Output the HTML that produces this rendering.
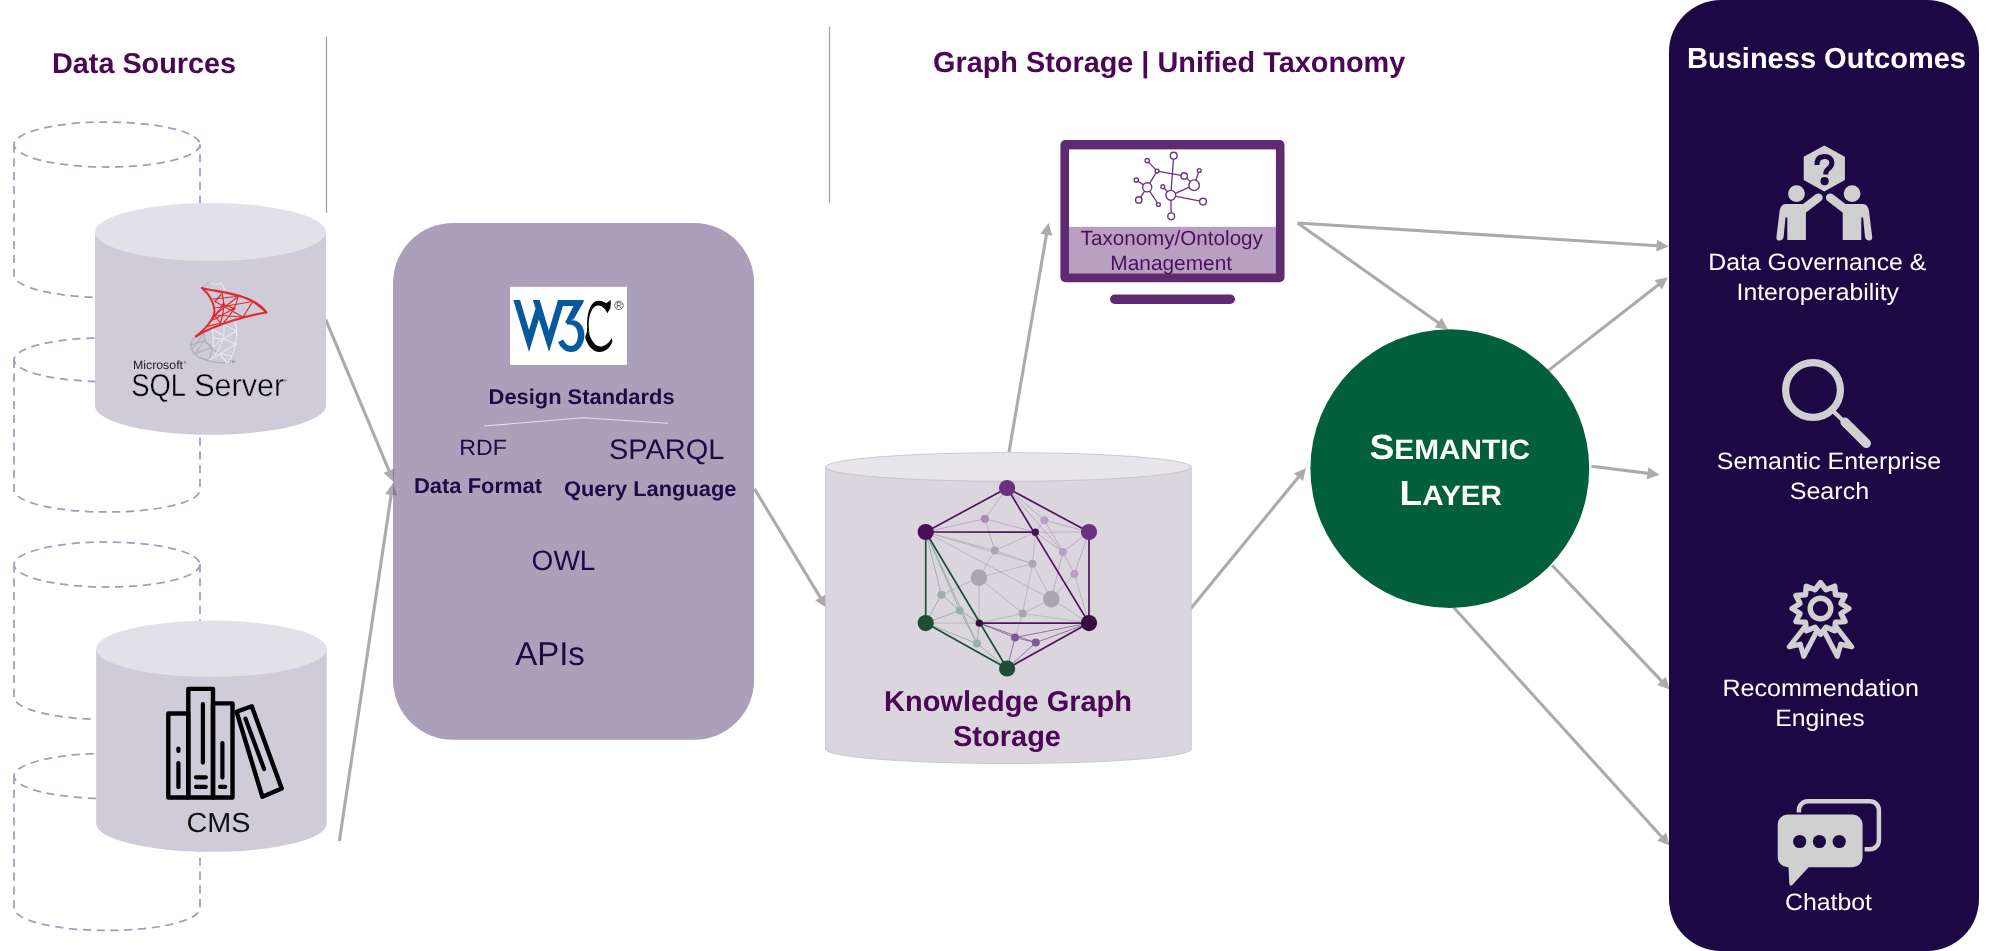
<!DOCTYPE html>
<html><head><meta charset="utf-8">
<style>
html,body{margin:0;padding:0;background:#fff;}
body{width:1999px;height:951px;overflow:hidden;}
svg{display:block;will-change:transform;opacity:0.9999;}
text{font-family:"Liberation Sans",sans-serif;text-rendering:geometricPrecision;}
.b{font-weight:bold;}
</style></head><body>
<svg width="1999" height="951" viewBox="0 0 1999 951">
<defs>
<marker id="ah" viewBox="0 0 14 12" refX="13" refY="6" markerWidth="14" markerHeight="12" markerUnits="userSpaceOnUse" orient="auto">
<path d="M0,0 L14,6 L0,12 L3.5,6 Z" fill="#aaa6a6"/>
</marker>
</defs>
<rect width="1999" height="951" fill="#fff"/>

<!-- SECTION: dividers -->
<line x1="326.5" y1="36.5" x2="326.5" y2="213" stroke="#a6a2a4" stroke-width="1.25"/>
<line x1="829.5" y1="26.5" x2="829.5" y2="203" stroke="#a6a2a4" stroke-width="1.25"/>

<!-- SECTION: headers -->
<text x="52" y="73" class="b" font-size="28.8" fill="#4b0655">Data Sources</text>
<text x="933" y="72.3" class="b" font-size="28.85" fill="#4b0655">Graph Storage | Unified Taxonomy</text>

<!-- SECTION: dashed cylinders -->
<g fill="none" stroke="#98a2c0" stroke-width="1.75" stroke-dasharray="8.2 5.6">
<g id="dc1"><ellipse cx="107" cy="144.5" rx="93" ry="22.5"/><path d="M14,144.5 V275 A93,22.5 0 0 0 200,275 V144.5"/></g>
<g><ellipse cx="107" cy="359.7" rx="93" ry="22"/><path d="M14,359.7 V490 A93,22 0 0 0 200,490 V359.7"/></g>
<g><ellipse cx="107" cy="564.5" rx="93" ry="22.5"/><path d="M14,564.5 V697 A93,22.5 0 0 0 200,697 V564.5"/></g>
<g><ellipse cx="107" cy="776" rx="93" ry="22.5"/><path d="M14,776 V908 A93,22.5 0 0 0 200,908 V776"/></g>
</g>

<!-- SECTION: arrows-under -->
<g id="arrows" stroke="#aeaaaa" stroke-width="3.1" fill="#aeaaaa">
<line x1="325.7" y1="319.7" x2="389.4" y2="471.7"/>
<polygon stroke="none" points="393.6,481.8 383.4,473.0 394.5,468.4"/>
<line x1="339.4" y1="841.0" x2="391.3" y2="493.8"/>
<polygon stroke="none" points="392.9,482.9 397.1,495.7 385.2,493.9"/>
<line x1="754.5" y1="488.9" x2="820.8" y2="598.4"/>
<polygon stroke="none" points="826.5,607.8 815.2,600.6 825.4,594.4"/>
<line x1="1009.0" y1="452.0" x2="1046.6" y2="233.8"/>
<polygon stroke="none" points="1048.5,223.0 1052.4,235.8 1040.5,233.8"/>
<line x1="1190.8" y1="608.5" x2="1299.0" y2="476.4"/>
<polygon stroke="none" points="1306.0,467.9 1303.0,481.0 1293.8,473.4"/>
<line x1="1297.6" y1="223.0" x2="1657.6" y2="245.7"/>
<polygon stroke="none" points="1668.6,246.4 1656.2,251.6 1657.0,239.7"/>
<line x1="1297.6" y1="223.0" x2="1439.0" y2="323.2"/>
<polygon stroke="none" points="1448.0,329.6 1434.7,327.6 1441.7,317.8"/>
<line x1="1548.5" y1="370.4" x2="1659.1" y2="284.2"/>
<polygon stroke="none" points="1667.8,277.4 1662.0,289.5 1654.6,280.0"/>
<line x1="1591.4" y1="466.2" x2="1648.6" y2="473.4"/>
<polygon stroke="none" points="1659.5,474.8 1646.8,479.2 1648.3,467.3"/>
<line x1="1552.1" y1="565.3" x2="1662.1" y2="681.6"/>
<polygon stroke="none" points="1669.7,689.6 1657.1,685.0 1665.8,676.8"/>
<line x1="1453.5" y1="607.3" x2="1662.3" y2="837.5"/>
<polygon stroke="none" points="1669.7,845.6 1657.2,840.7 1666.1,832.7"/>
</g>

<!-- SECTION: sql-cylinder -->
<g id="sqlcyl">
<path d="M95,232 V405.7 A115.5,29 0 0 0 326,405.7 V232 Z" fill="#d0cbd9"/>
<ellipse cx="210.5" cy="232" rx="115.5" ry="29" fill="#e3e1e8"/>
</g>

<!-- SECTION: cms-cylinder -->
<g id="cmscyl">
<path d="M96.2,649 V823.6 A115.3,28.2 0 0 0 326.8,823.6 V649 Z" fill="#d0cbd9"/>
<ellipse cx="211.5" cy="648.7" rx="115.3" ry="28.2" fill="#e3e1e8"/>
</g>

<!-- SECTION: sql-logo -->
<g id="sqllogo">
<g fill="none" stroke="#adb4b9" stroke-width="1.2" stroke-linecap="round">
<path d="M196.0,336.4 C189.0,341.9 188.0,350.9 200.0,357.9 C209.0,361.9 218.0,362.9 227.0,362.9"/>
<path d="M204.0,333.9 C203.0,340.9 210.0,348.9 220.0,353.9"/>
<path d="M190.5,344.9 L204.0,340.9"/>
<path d="M204.0,340.9 L195.0,353.9"/>
<path d="M195.0,353.9 L213.0,346.9"/>
<path d="M204.0,340.9 L213.0,346.9"/>
<path d="M213.0,346.9 L209.0,359.9"/>
<path d="M192.0,348.9 L204.0,333.9"/>
<path d="M209.0,359.9 L200.0,357.9"/>
</g>
<g fill="none" stroke="#e6e8ea" stroke-width="1.15" stroke-linecap="round">
<path d="M234.9,321.0 C237.9,330.9 236.9,343.9 232.9,353.9 C230.9,358.9 229.0,361.9 227.0,362.9"/>
<path d="M224.0,325.0 C225.0,334.9 222.0,346.9 215.0,354.9"/>
<path d="M212.0,328.9 C214.0,336.9 213.0,343.9 213.0,346.9"/>
<path d="M224.0,325.0 L236.4,330.9"/>
<path d="M236.4,330.9 L223.0,338.9"/>
<path d="M223.0,338.9 L235.9,343.9"/>
<path d="M235.9,343.9 L220.0,353.9"/>
<path d="M220.0,353.9 L231.9,355.9"/>
<path d="M213.0,337.9 L223.0,338.9"/>
<path d="M213.0,346.9 L223.0,338.9"/>
<path d="M209.0,359.9 L220.0,353.9"/>
<path d="M220.0,353.9 L227.0,362.9"/>
<path d="M212.0,328.9 L224.0,335.9"/>
</g>
<g fill="none" stroke-width="1.3" stroke-linecap="round">
<path stroke="#b4bcc0" d="M202.0,288.0 C203.5,285.0 206.5,283.0 211.0,282.2"/>
<path stroke="#e4e8e8" d="M210.0,283.2 C214.0,284.5 219.0,284.5 221.2,282.8"/>
<path stroke="#e4e8e8" d="M221.2,282.8 C223.0,286.0 224.5,289.0 225.5,292.0"/>
<path stroke="#c8d0d2" d="M205.0,285.0 L210.0,290.0 M210.0,283.2 L212.0,290.0"/>
</g>
<g fill="none" stroke="#de2a2e" stroke-linejoin="round" stroke-linecap="round">
<path stroke-width="2.2" d="M202.0,288.0 C220.0,293.0 251.9,293.0 266.4,312.5 C249.9,315.0 215.0,324.0 196.0,336.4"/>
<path stroke-width="2.0" d="M202.0,288.0 C209.0,294.0 214.0,302.0 214.5,311.0 C214.0,320.0 204.0,329.9 196.0,336.4"/>
<path stroke-width="1.2" d="M222.0,293.5 C225.0,303.0 224.0,313.0 220.5,323.0"/>
<path stroke-width="1.2" d="M237.9,296.5 C236.9,304.0 232.9,313.0 224.0,322.0"/>
<g stroke-width="1.25">
<path d="M213.0,299.0 L235.9,296.5"/>
<path d="M214.5,308.0 L252.9,301.5"/>
<path d="M214.5,315.0 L242.9,317.0"/>
<path d="M221.0,294.5 L215.0,301.5"/>
<path d="M215.0,301.5 L242.9,317.0"/>
<path d="M216.0,314.0 L237.9,296.5"/>
<path d="M252.9,301.5 L242.9,317.0"/>
<path d="M213.0,320.0 L233.9,308.5"/>
<path d="M210.0,322.0 L223.5,304.5"/>
<path d="M223.5,304.5 L233.9,308.5"/>
<path d="M206.0,326.9 L220.5,323.0"/>
<path d="M214.5,315.0 L220.5,323.0"/>
<path d="M252.9,301.5 L266.4,312.5"/>
</g>
<circle cx="233.9" cy="308.5" r="1.6" fill="#de2a2e" stroke="none"/>
<circle cx="223.5" cy="304.5" r="1.4" fill="#de2a2e" stroke="none"/>
</g>
<text x="133" y="369.3" font-size="12" fill="#222" textLength="50" lengthAdjust="spacingAndGlyphs">Microsoft</text>
<circle cx="185" cy="362.3" r="0.9" fill="none" stroke="#333" stroke-width="0.4"/>
<text x="131.3" y="396.3" font-size="31.5" fill="#000" textLength="54.8" lengthAdjust="spacingAndGlyphs" stroke="#d0cbd9" stroke-width="0.45">SQL</text><text x="194.2" y="396.3" font-size="31.5" fill="#000" textLength="90" lengthAdjust="spacingAndGlyphs" stroke="#d0cbd9" stroke-width="0.45">Server</text>
<circle cx="285.3" cy="380.3" r="1" fill="none" stroke="#333" stroke-width="0.4"/>
<text x="229.5" y="362.5" font-size="3.6" fill="#666">TM</text>
</g>

<!-- SECTION: cms-icon -->
<g id="cmsicon" fill="none" stroke="#000" stroke-width="4.4" stroke-linejoin="round" stroke-linecap="round">
<rect x="168.3" y="713.5" width="20" height="84"/>
<rect x="188.3" y="688.9" width="24.7" height="108.6"/>
<rect x="213" y="703.4" width="19.5" height="94.1"/>
<polygon points="236.6,711.8 251.8,706.3 281.7,788.6 262.4,796.8"/>
<g stroke-width="4.2">
<line x1="178.4" y1="748.5" x2="178.4" y2="751"/>
<line x1="178.4" y1="763" x2="178.4" y2="787.2"/>
<line x1="202.9" y1="704.2" x2="202.9" y2="762.6"/>
<line x1="196" y1="777.3" x2="205.8" y2="777.3"/>
<line x1="196" y1="786.8" x2="205.8" y2="786.8"/>
<line x1="222.4" y1="743.2" x2="222.4" y2="777.6"/>
<line x1="220" y1="786.8" x2="225.2" y2="786.8"/>
<line x1="245.400" y1="718.600" x2="264.100" y2="769"/>
</g></g>
<text x="186.500" y="831.900" font-size="27.600" fill="#111" textLength="64" lengthAdjust="spacingAndGlyphs">CMS</text>

<!-- SECTION: purple-panel -->
<rect x="393" y="223" width="361.1" height="516.8" rx="60" ry="60" fill="#aba0b9"/>
<clipPath id="pclip"><rect x="393" y="223" width="361.1" height="516.8" rx="60" ry="60"/></clipPath>
<g clip-path="url(#pclip)" fill="#2a1040" opacity="0.26"><polygon points="393.6,481.8 383.4,473.0 394.5,468.4"/><polygon points="392.9,482.9 397.1,495.7 385.2,493.9"/></g>


<!-- SECTION: panel-content -->
<g id="w3c">
<rect x="510" y="286.8" width="117" height="78.1" fill="#fff"/>
<g transform="translate(500,280) scale(0.09675)">
<g fill="#07589f">
<path d="M138,208 L207,208 L300,516 L366.5,296 L435,296 L300,745 Z"/>
<path d="M340,208 L410,208 L505,523 L600,208 L669,208 L507,745 Z"/>
<path d="M600,208 H865 V224 L768,396 L700,452 L672,440 L760,270 H600 Z"/>
<path d="M700,425 C800,385 872,470 872,565 C872,670 810,745 735,745 C670,745 625,700 600,642 L655,614 C672,655 700,680 735,680 C775,680 805,635 805,570 C805,500 765,450 690,462 Z"/>
</g>
<path d="M1147,208 L1141,290 L1110,343 C1085,287 1050,262 1010,263 C957,266 921,350 917,440 C916,480 919,520 927,565 L903,500 C893,400 913,292 958,242 C1000,198 1062,214 1097,241 Z" fill="#050505"/>
<path d="M879,588 C904,680 960,743 1030,743 C1087,743 1137,700 1161,640 L1158,596 C1100,690 1030,706 985,666 C950,632 926,584 913,524 L903,472 C901,522 896,560 879,588 Z" fill="#050505"/>
<circle cx="1229" cy="262" r="44" fill="none" stroke="#222" stroke-width="7"/>
<path d="M1212,290 V234 H1232 C1246,234 1250,242 1250,249 C1250,257 1245,263 1234,264 H1212 M1234,264 L1251,290" fill="none" stroke="#222" stroke-width="7"/>
</g>
</g>
<text x="488.6" y="403.6" class="b" font-size="21.3" fill="#1d0a45" textLength="186" lengthAdjust="spacingAndGlyphs">Design Standards</text>
<polyline points="484,426 583.300,417.800 668.200,423.300" fill="none" stroke="#e4e0ea" stroke-width="1.100"/>
<text x="459.3" y="455" font-size="22" fill="#1d0a45" textLength="47.5" lengthAdjust="spacingAndGlyphs">RDF</text>
<text x="609" y="458.900" font-size="28.3" fill="#1d0a45" textLength="115.500" lengthAdjust="spacingAndGlyphs">SPARQL</text>
<text x="414" y="492.700" class="b" font-size="21.3" fill="#1d0a45" textLength="128" lengthAdjust="spacingAndGlyphs">Data Format</text>
<text x="564" y="495.500" class="b" font-size="21.3" fill="#1d0a45" textLength="172.500" lengthAdjust="spacingAndGlyphs">Query Language</text>
<text x="563.500" y="570" font-size="28" fill="#1d0a45" text-anchor="middle">OWL</text>
<text x="550" y="665" font-size="33" fill="#1d0a45" text-anchor="middle">APIs</text>

<!-- SECTION: kg-cylinder -->
<g id="kgcyl">
<path d="M825.6,467 V749.2 A182.8,14.3 0 0 0 1191.2,749.2 V467 Z" fill="#dbd6de" stroke="#b9c6c6" stroke-width="0.85"/>
<ellipse cx="1008.4" cy="467" rx="182.8" ry="14.3" fill="#e9e6eb" stroke="#b9c6c6" stroke-width="0.85"/>
</g>

<!-- SECTION: kg-graph -->
<g id="kggraph">
<g stroke-width="0.8" fill="none">
<line x1="1007.1" y1="488.0" x2="984.9" y2="518.8" stroke="#b8a0c5"/>
<line x1="984.9" y1="518.8" x2="925.7" y2="532.0" stroke="#b8a0c5"/>
<line x1="984.9" y1="518.8" x2="1035.3" y2="532.2" stroke="#b8a0c5"/>
<line x1="984.9" y1="518.8" x2="994.8" y2="550.5" stroke="#b8a0c5"/>
<line x1="1007.1" y1="488.0" x2="1044.3" y2="520.2" stroke="#b8a0c5"/>
<line x1="1044.3" y1="520.2" x2="1089.0" y2="532.0" stroke="#b8a0c5"/>
<line x1="1044.3" y1="520.2" x2="1035.3" y2="532.2" stroke="#b8a0c5"/>
<line x1="1044.3" y1="520.2" x2="1062.8" y2="551.9" stroke="#b8a0c5"/>
<line x1="1007.1" y1="488.0" x2="1089.0" y2="532.0" stroke="#b4b0b8"/>
<line x1="1035.3" y1="532.2" x2="1089.0" y2="532.0" stroke="#b4b0b8"/>
<line x1="1062.8" y1="551.9" x2="1089.0" y2="532.0" stroke="#b8a0c5"/>
<line x1="1062.8" y1="551.9" x2="1074.4" y2="573.9" stroke="#b8a0c5"/>
<line x1="1074.4" y1="573.9" x2="1089.0" y2="532.0" stroke="#b8a0c5"/>
<line x1="1074.4" y1="573.9" x2="1089.0" y2="623.1" stroke="#b8a0c5"/>
<line x1="1062.8" y1="551.9" x2="1051.3" y2="599.1" stroke="#b8a0c5"/>
<line x1="1074.4" y1="573.9" x2="1051.3" y2="599.1" stroke="#b8a0c5"/>
<line x1="925.7" y1="532.0" x2="994.8" y2="550.5" stroke="#b4b0b8"/>
<line x1="994.8" y1="550.5" x2="1035.3" y2="532.2" stroke="#b4b0b8"/>
<line x1="994.8" y1="550.5" x2="978.9" y2="577.6" stroke="#b4b0b8"/>
<line x1="994.8" y1="550.5" x2="1032.5" y2="563.7" stroke="#b4b0b8"/>
<line x1="1032.5" y1="563.7" x2="978.9" y2="577.6" stroke="#b4b0b8"/>
<line x1="1032.5" y1="563.7" x2="1035.3" y2="532.2" stroke="#b4b0b8"/>
<line x1="1032.5" y1="563.7" x2="1051.3" y2="599.1" stroke="#b4b0b8"/>
<line x1="1032.5" y1="563.7" x2="1022.6" y2="613.4" stroke="#b4b0b8"/>
<line x1="978.9" y1="577.6" x2="979.3" y2="623.1" stroke="#b4b0b8"/>
<line x1="978.9" y1="577.6" x2="1022.6" y2="613.4" stroke="#b4b0b8"/>
<line x1="978.9" y1="577.6" x2="941.4" y2="594.7" stroke="#b4b0b8"/>
<line x1="1051.3" y1="599.1" x2="1022.6" y2="613.4" stroke="#b4b0b8"/>
<line x1="1051.3" y1="599.1" x2="1089.0" y2="623.1" stroke="#b4b0b8"/>
<line x1="1022.6" y1="613.4" x2="979.3" y2="623.1" stroke="#b4b0b8"/>
<line x1="1022.6" y1="613.4" x2="1089.0" y2="623.1" stroke="#b4b0b8"/>
<line x1="1022.6" y1="613.4" x2="1015.0" y2="637.5" stroke="#b4b0b8"/>
<line x1="925.7" y1="532.0" x2="1051.3" y2="599.1" stroke="#b4b0b8"/>
<line x1="925.7" y1="532.0" x2="1032.5" y2="563.7" stroke="#b4b0b8"/>
<line x1="925.7" y1="532.0" x2="941.4" y2="594.7" stroke="#8fa69c"/>
<line x1="941.4" y1="594.7" x2="925.7" y2="623.1" stroke="#8fa69c"/>
<line x1="941.4" y1="594.7" x2="959.7" y2="610.4" stroke="#8fa69c"/>
<line x1="959.7" y1="610.4" x2="925.7" y2="623.1" stroke="#8fa69c"/>
<line x1="959.7" y1="610.4" x2="979.3" y2="623.1" stroke="#8fa69c"/>
<line x1="959.7" y1="610.4" x2="977.0" y2="643.5" stroke="#8fa69c"/>
<line x1="977.0" y1="643.5" x2="925.7" y2="623.1" stroke="#8fa69c"/>
<line x1="977.0" y1="643.5" x2="1007.1" y2="668.5" stroke="#8fa69c"/>
<line x1="977.0" y1="643.5" x2="979.3" y2="623.1" stroke="#8fa69c"/>
<line x1="925.7" y1="532.0" x2="959.7" y2="610.4" stroke="#8fa69c"/>
<line x1="925.7" y1="532.0" x2="977.0" y2="643.5" stroke="#8fa69c"/>
<line x1="925.7" y1="623.1" x2="979.3" y2="623.1" stroke="#b4b0b8"/>
<line x1="979.3" y1="623.1" x2="1015.0" y2="637.5" stroke="#7d5a94"/>
<line x1="1015.0" y1="637.5" x2="1089.0" y2="623.1" stroke="#7d5a94"/>
<line x1="1015.0" y1="637.5" x2="1035.8" y2="642.6" stroke="#7d5a94"/>
<line x1="1035.8" y1="642.6" x2="1089.0" y2="623.1" stroke="#7d5a94"/>
<line x1="1015.0" y1="637.5" x2="1007.1" y2="668.5" stroke="#7d5a94"/>
<line x1="1035.8" y1="642.6" x2="1007.1" y2="668.5" stroke="#7d5a94"/>
<line x1="979.3" y1="623.1" x2="1035.8" y2="642.6" stroke="#7d5a94"/>
<line x1="1007.1" y1="488.0" x2="1062.8" y2="551.9" stroke="#b8a0c5"/>
<line x1="1035.3" y1="532.2" x2="1062.8" y2="551.9" stroke="#b8a0c5"/>
</g><g stroke="#4f1460" stroke-width="1.7" fill="none">
<line x1="1007.1" y1="488.0" x2="925.7" y2="532.0"/>
<line x1="1007.1" y1="488.0" x2="1089.0" y2="532.0"/>
<line x1="925.7" y1="532.0" x2="1035.3" y2="532.2"/>
<line x1="1007.1" y1="488.0" x2="1089.0" y2="623.1"/>
<line x1="1089.0" y1="532.0" x2="1089.0" y2="623.1"/>
<line x1="1089.0" y1="623.1" x2="1007.1" y2="668.5"/>
<line x1="979.3" y1="623.1" x2="1089.0" y2="623.1"/>
</g><g stroke="#1f4d35" stroke-width="1.7" fill="none">
<line x1="925.7" y1="532.0" x2="925.7" y2="623.1"/>
<line x1="925.7" y1="623.1" x2="1007.1" y2="668.5"/>
<line x1="925.7" y1="532.0" x2="1007.1" y2="668.5"/>
</g>
<circle cx="1007.1" cy="488.0" r="8.1" fill="#6b3080"/>
<circle cx="925.7" cy="532.0" r="8.1" fill="#4a0d5a"/>
<circle cx="1089.0" cy="532.0" r="8.1" fill="#6b3080"/>
<circle cx="925.7" cy="623.1" r="8.1" fill="#1f4d35"/>
<circle cx="1089.0" cy="623.1" r="8.1" fill="#35103f"/>
<circle cx="1007.1" cy="668.5" r="8.1" fill="#1f4d35"/>
<circle cx="1035.3" cy="532.2" r="3.7" fill="#4a0d5a"/>
<circle cx="979.3" cy="623.1" r="3.7" fill="#35103f"/>
<circle cx="984.9" cy="518.8" r="4.0" fill="#a88bb5"/>
<circle cx="1044.3" cy="520.2" r="4.0" fill="#b8a0c5"/>
<circle cx="1062.8" cy="551.9" r="4.0" fill="#b8a0c5"/>
<circle cx="1074.4" cy="573.9" r="4.0" fill="#b8a0c5"/>
<circle cx="994.8" cy="550.5" r="4.0" fill="#aaa6ae"/>
<circle cx="1032.5" cy="563.7" r="4.0" fill="#aaa6ae"/>
<circle cx="978.9" cy="577.6" r="8.3" fill="#aaa6ae"/>
<circle cx="1051.3" cy="599.1" r="8.3" fill="#aaa6ae"/>
<circle cx="1022.6" cy="613.4" r="4.0" fill="#aaa6ae"/>
<circle cx="941.4" cy="594.7" r="4.0" fill="#9bb0a8"/>
<circle cx="959.7" cy="610.4" r="4.0" fill="#9bb0a8"/>
<circle cx="977.0" cy="643.5" r="4.0" fill="#9bb0a8"/>
<circle cx="1015.0" cy="637.5" r="4.0" fill="#7d5a94"/>
<circle cx="1035.8" cy="642.6" r="4.0" fill="#7d5a94"/>
</g>
<text x="884" y="710.6" class="b" font-size="28.8" fill="#4b0655" textLength="248" lengthAdjust="spacingAndGlyphs">Knowledge Graph</text>
<text x="953" y="745.6" class="b" font-size="28.8" fill="#4b0655" textLength="108" lengthAdjust="spacingAndGlyphs">Storage</text>

<!-- SECTION: monitor -->
<g id="monitor">
<rect x="1060.4" y="140" width="224.1" height="142.3" rx="5" fill="#5f2a72"/>
<rect x="1069" y="149.4" width="206.9" height="77.6" fill="#fff"/>
<rect x="1069" y="226.8" width="206.9" height="46.7" fill="#b9a0c3"/>
<rect x="1110" y="294.5" width="125" height="9.5" rx="4.75" fill="#5f2a72"/>
<g stroke="#6a3580" stroke-width="1.3" fill="none">
<line x1="1173.7" y1="155.7" x2="1170.8" y2="195.3"/>
<line x1="1147.2" y1="160.6" x2="1157.1" y2="171.1"/>
<line x1="1157.1" y1="171.1" x2="1184.2" y2="175.9"/>
<line x1="1157.1" y1="171.1" x2="1147.2" y2="187.3"/>
<line x1="1136.3" y1="180.1" x2="1147.2" y2="187.3"/>
<line x1="1147.2" y1="187.3" x2="1138.8" y2="199.9"/>
<line x1="1147.2" y1="187.3" x2="1158.4" y2="204.5"/>
<line x1="1162.8" y1="186.7" x2="1170.8" y2="195.3"/>
<line x1="1170.8" y1="195.3" x2="1194.1" y2="185.2"/>
<line x1="1194.1" y1="185.2" x2="1199.2" y2="170.5"/>
<line x1="1170.8" y1="195.3" x2="1203.0" y2="201.6"/>
<line x1="1170.8" y1="195.3" x2="1171.2" y2="216.3"/>
<line x1="1184.2" y1="175.9" x2="1194.1" y2="185.2"/>
</g><g stroke="#6a3580" stroke-width="1.4" fill="#fff">
<circle cx="1173.7" cy="155.7" r="3.4"/>
<circle cx="1147.2" cy="160.6" r="2.1"/>
<circle cx="1157.1" cy="171.1" r="1.9"/>
<circle cx="1184.2" cy="175.9" r="3.2"/>
<circle cx="1199.2" cy="170.5" r="1.9"/>
<circle cx="1136.3" cy="180.1" r="2.1"/>
<circle cx="1147.2" cy="187.3" r="4.6"/>
<circle cx="1162.8" cy="186.7" r="1.9"/>
<circle cx="1194.1" cy="185.2" r="5.3"/>
<circle cx="1170.8" cy="195.3" r="4.9"/>
<circle cx="1138.8" cy="199.9" r="3.2"/>
<circle cx="1158.4" cy="204.5" r="1.9"/>
<circle cx="1203.0" cy="201.6" r="3.4"/>
<circle cx="1171.2" cy="216.3" r="3.4"/>
</g>
<text x="1080.6" y="244.6" font-size="20.6" fill="#4d0f5c" textLength="182.3" lengthAdjust="spacingAndGlyphs">Taxonomy/Ontology</text>
<text x="1110.3" y="269.7" font-size="20.6" fill="#4d0f5c" textLength="121.8" lengthAdjust="spacingAndGlyphs">Management</text>
</g>

<!-- SECTION: semantic-circle -->
<circle cx="1449.8" cy="468.6" r="139.4" fill="#005f3c"/>

<!-- SECTION: semantic-text -->
<text x="1369.5" y="458.7" class="b" fill="#fff" textLength="160.5" lengthAdjust="spacingAndGlyphs"><tspan font-size="35">S</tspan><tspan font-size="28">EMANTIC</tspan></text>
<text x="1399.5" y="504.5" class="b" fill="#fff" textLength="102.5" lengthAdjust="spacingAndGlyphs"><tspan font-size="35">L</tspan><tspan font-size="28">AYER</tspan></text>

<!-- SECTION: right-panel -->
<rect x="1669" y="0" width="310" height="951" rx="52" ry="52" fill="#1c0845"/>

<!-- SECTION: right-content -->
<text x="1687" y="67.7" class="b" font-size="29" fill="#fff" textLength="279" lengthAdjust="spacingAndGlyphs">Business Outcomes</text>
<g id="ic-gov" fill="#d0d0d0">
<polygon points="1824.3,145.4 1844.9,156.8 1844.9,180 1824.3,191.6 1803.7,180 1803.7,156.8"/>
<path d="M1816.9,165 C1816.9,158.8 1820.2,156.4 1824.5,156.4 C1829,156.4 1831.9,159 1831.9,162.8 C1831.9,166 1830.1,167.6 1827.8,169.4 C1826.2,170.7 1825.7,171.9 1825.7,174.4" fill="none" stroke="#1c0845" stroke-width="5"/>
<circle cx="1824.6" cy="181.2" r="4.1" fill="#1c0845"/>
<circle cx="1796.5" cy="193.6" r="8.4"/>
<path d="M1787.3,239.9 L1787.3,203.9 L1802.5,203.9 L1805.9,208.0 L1805.9,239.9 Z"/>
<path d="M1789.0,203.9 L1785.5,203.9 Q1780.6,204.2 1779.6,211 L1776.4,237 Q1776.2,241 1780.0,240.4 Q1783.3,240 1783.6,237 L1785.5,217.5 L1789.0,217.5 Z"/>
<line x1="1802.8" y1="209.6" x2="1818.4" y2="197.7" stroke="#d0d0d0" stroke-width="8.6" stroke-linecap="round"/>
<circle cx="1852.1" cy="193.6" r="8.4"/>
<path d="M1861.3,239.9 L1861.3,203.9 L1846.1,203.9 L1842.7,208.0 L1842.7,239.9 Z"/>
<path d="M1859.6,203.9 L1863.1,203.9 Q1868.0,204.2 1869.0,211 L1872.2,237 Q1872.4,241 1868.6,240.4 Q1865.3,240 1865.0,237 L1863.1,217.5 L1859.6,217.5 Z"/>
<line x1="1845.8" y1="209.6" x2="1830.2" y2="197.7" stroke="#d0d0d0" stroke-width="8.6" stroke-linecap="round"/>
</g>
<text x="1708.3" y="269.5" font-size="23.6" fill="#fff" textLength="218" lengthAdjust="spacingAndGlyphs">Data Governance &amp;</text>
<text x="1736.5" y="300" font-size="23.6" fill="#fff" textLength="162.5" lengthAdjust="spacingAndGlyphs">Interoperability</text>
<g id="ic-search" stroke="#d0d0d0" fill="none">
<circle cx="1813" cy="390" r="27.4" stroke-width="7.2"/>
<line x1="1832" y1="410" x2="1844" y2="421.500" stroke-width="4.200"/>
<line x1="1845" y1="422.200" x2="1866.300" y2="443.400" stroke-width="9.300" stroke-linecap="round"/>
</g>
<text x="1716.8" y="468.8" font-size="23.6" fill="#fff" textLength="224.4" lengthAdjust="spacingAndGlyphs">Semantic Enterprise</text>
<text x="1789.7" y="498.7" font-size="23.6" fill="#fff" textLength="79.5" lengthAdjust="spacingAndGlyphs">Search</text>
<g id="ic-rec" stroke="#d0d0d0" fill="none" stroke-width="5.1" stroke-linejoin="round">
<path d="M1805.5,626 L1789.3,646.700 L1800.300,644.200 L1803.700,656.300 L1817,631"/>
<path d="M1835.500,626 L1851.700,646.700 L1840.700,644.200 L1837.300,656.300 L1824,631"/>
<polygon points="1820.5,582.7 1826.0,589.8 1834.7,586.2 1835.5,594.8 1845.0,595.6 1841.0,603.5 1848.8,608.5 1841.0,613.5 1845.0,621.4 1835.5,622.2 1834.7,630.8 1826.0,627.2 1820.5,634.3 1815.0,627.2 1806.3,630.8 1805.5,622.2 1796.0,621.4 1800.0,613.5 1792.2,608.5 1800.0,603.5 1796.0,595.6 1805.5,594.8 1806.3,586.2 1815.0,589.8" fill="#1c0845" stroke-width="5.500"/>
<circle cx="1820.5" cy="608.5" r="10.3" stroke-width="5.400"/>
</g>
<text x="1722.4" y="696" font-size="23.6" fill="#fff" textLength="196.5" lengthAdjust="spacingAndGlyphs">Recommendation</text>
<text x="1775.2" y="726" font-size="23.6" fill="#fff" textLength="89.5" lengthAdjust="spacingAndGlyphs">Engines</text>
<g id="ic-chat">
<rect x="1798.9" y="801.2" width="80" height="48" rx="9" fill="none" stroke="#d0d0d0" stroke-width="4.5"/>
<path d="M1787.700,814.500 H1852.600 A10,10 0 0 1 1862.600,824.500 V857.200 A10,10 0 0 1 1852.600,867.200 H1808.600 L1792.500,884.800 Q1789.500,887 1789.300,883.500 L1788.500,867.200 H1787.700 A10,10 0 0 1 1777.700,857.200 V824.500 A10,10 0 0 1 1787.700,814.500 Z" fill="#d0d0d0" stroke="#1c0845" stroke-width="4" paint-order="stroke"/>
<circle cx="1799.7" cy="841.5" r="6.600" fill="#1c0845"/>
<circle cx="1819.4" cy="841.5" r="6.600" fill="#1c0845"/>
<circle cx="1839.2" cy="841.5" r="6.600" fill="#1c0845"/>
</g>
<text x="1785" y="910.3" font-size="23.6" fill="#fff" textLength="87" lengthAdjust="spacingAndGlyphs">Chatbot</text>
</svg>
</body></html>
